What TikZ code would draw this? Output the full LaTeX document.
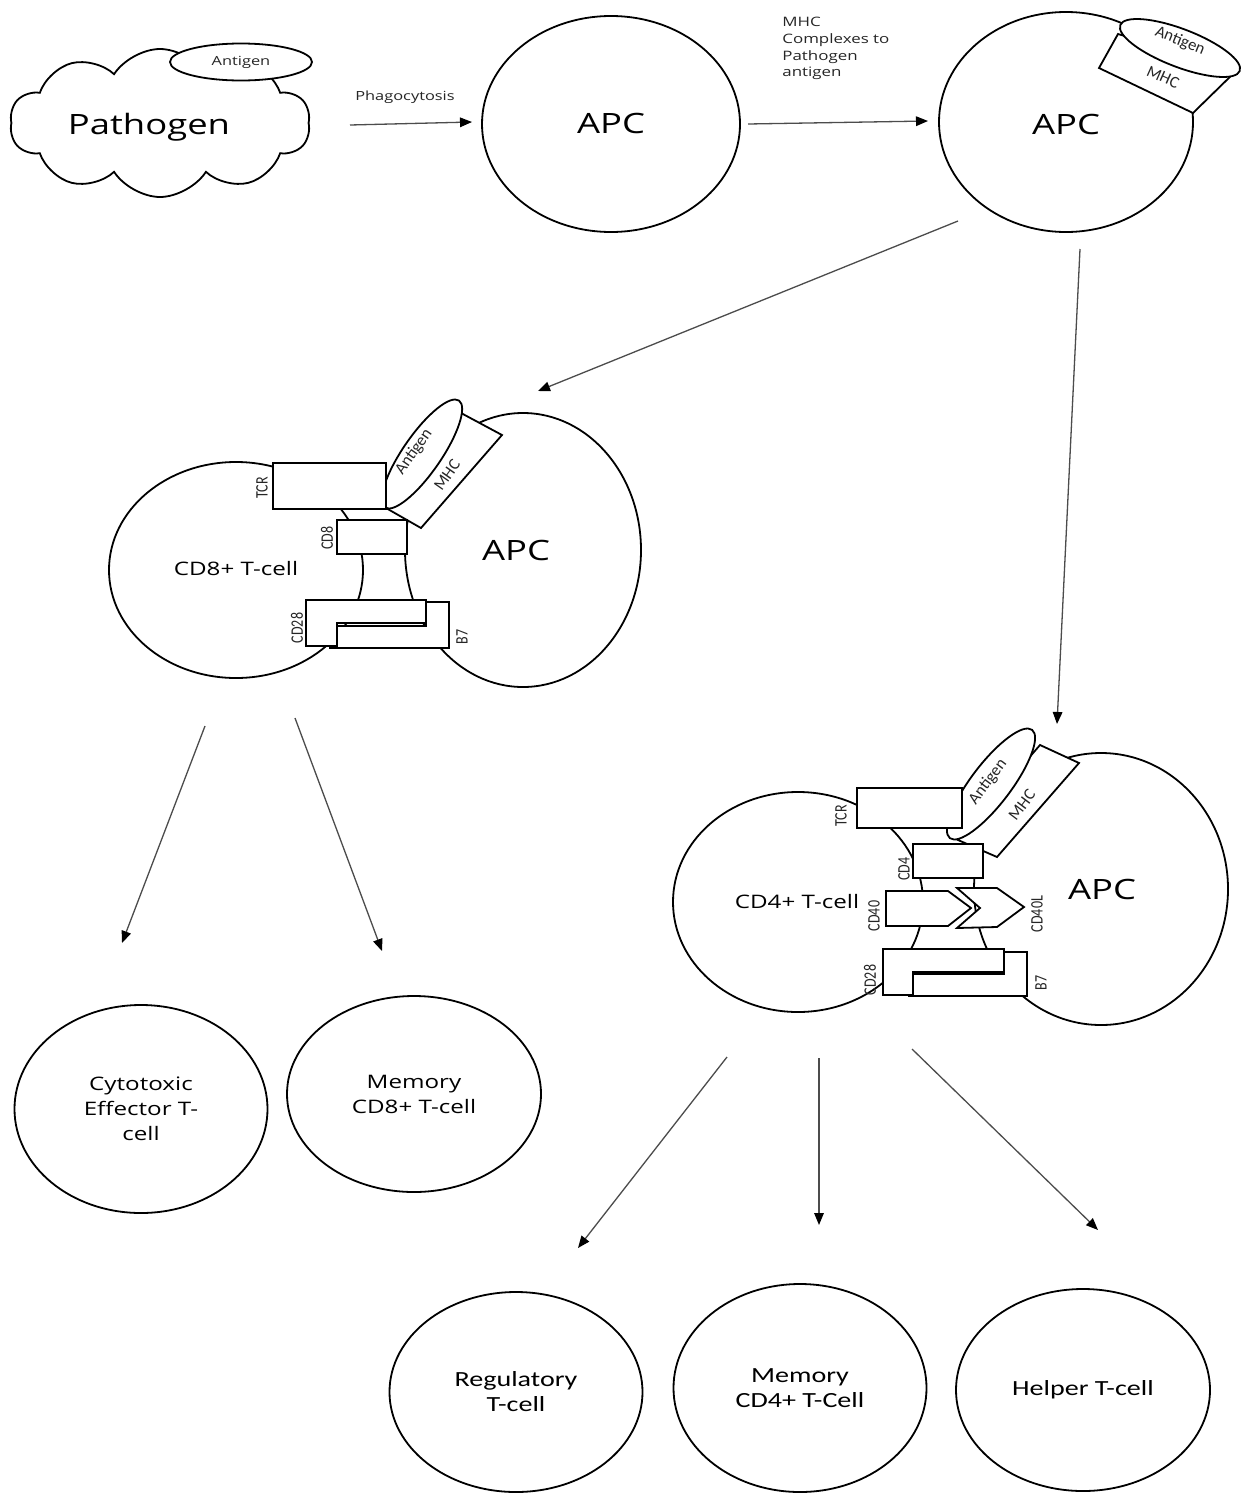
\documentclass[tikz,border=0pt]{standalone}
\usepackage{fontspec}
\setmainfont[FakeStretch=1.3]{Open Sans}
\newfontfamily\carl{Carlito}
\newfontfamily\carlw[FakeStretch=1.3]{Carlito}
\usetikzlibrary{shapes.geometric,shapes.symbols,arrows.meta}
\newcommand\fsz[2]{\fontsize{#1}{#2}\selectfont}
\begin{document}
\begin{tikzpicture}[x=0.5pt,y=-0.5pt,
  cell/.style={ellipse, draw, line width=0.9pt, fill=white, inner sep=0pt},
  mol/.style={draw, line width=0.9pt, fill=white, line join=miter},
  arr/.style={draw=black!70, line width=0.65pt, -{Triangle[length=6pt,width=4.8pt,color=black]}},
  rlab/.style={font=\carl\fsz{7}{8}, xscale=1.25, rotate=90, inner sep=0pt, text=black!85},
  tlab/.style={font=\carl\fsz{8.3}{9}, inner sep=0pt, text=black!85},
  big/.style={font=\fsz{14}{17}, inner sep=0pt},
  mid/.style={font=\fsz{9.3}{12.5}, align=center},
  midc/.style={font=\carlw\fsz{10.8}{12.5}, align=center},
  small/.style={font=\fsz{6.3}{8.35}, inner sep=0pt, text=black!85}
]
\fill[white] (0,0) rectangle (1244,1494);
\useasboundingbox (0,0) rectangle (1244,1494);

% ---------- top row ----------
\node[cloud, cloud puffs=10, cloud puff arc=115, aspect=2.05, draw, line width=0.9pt,
      fill=white, minimum width=150pt, minimum height=74pt, inner sep=0pt] (pathogen) at (160,123) {};
\node[cell, minimum width=71pt, minimum height=18.5pt] (antigen0) at (241,62) {};
\node[small] (antigen0txt) at (241,62) {Antigen};
\node[big] (pathtxt) at (149,127) {Pathogen};

\node[small] (phago) at (405,97) {Phagocytosis};

\node[cell, minimum width=129pt, minimum height=108pt] (apc1) at (611,124) {};
\node[big] (apc1txt) at (611,123) {APC};

\node[small, font=\fsz{6.5}{8.35}, align=left, anchor=north west] (mhclab) at (782,17)
  {MHC\\Complexes to\\Pathogen\\antigen};

\node[cell, minimum width=127pt, minimum height=110pt] (apc2) at (1066,122) {};
\draw[mol] (1118,34) -- (1099,68) -- (1193,113) -- (1237,70) -- cycle;
\node[cell, rotate=-21, minimum width=64pt, minimum height=19pt] (ag2) at (1180,48) {};
\node[tlab, rotate=-22] (ag2txt) at (1180,41) {Antigen};
\node[tlab, rotate=-24] (mhc2txt) at (1163,77) {MHC};
\node[big] (apc2txt) at (1066,124) {APC};

\coordinate (a1s) at (350,125); \coordinate (a1e) at (472,122);
\coordinate (a2s) at (748,124); \coordinate (a2e) at (928,121);
\draw[arr] (a1s) -- (a1e);
\draw[arr] (a2s) -- (a2e);

% ---------- CD8 complex ----------
\node[cell, minimum width=127pt, minimum height=108pt] (tcell8) at (236,570) {};
\node[cell, minimum width=118pt, minimum height=137pt] (apc8) at (523,550) {};
\draw[mol] (386,508) -- (421,528) -- (502,435) -- (461,413) -- cycle;
\node[cell, rotate=55.3, minimum width=65pt, minimum height=19pt] (ag8) at (422,454) {};
\draw[mol] (273,463) rectangle (386,509);
\draw[mol] (337,520) rectangle (407,554);
\draw[mol] (426,602) -- (449,602) -- (449,648) -- (330,648) -- (330,626) -- (426,626) -- cycle;
\draw[mol] (306,600) -- (426,600) -- (426,623) -- (337,623) -- (337,646) -- (306,646) -- cycle;
\node[tlab, rotate=55] (ag8txt) at (414,452) {Antigen};
\node[tlab, rotate=55] (mhc8txt) at (447,475) {MHC};
\node[rlab] (tcr8txt) at (262,488) {TCR};
\node[rlab] (cd8txt) at (327,538) {CD8};
\node[rlab] (cd28atxt) at (297,628) {CD28};
\node[rlab] (b7atxt) at (462,637) {B7};
\node[mid] (tcell8txt) at (236,569) {CD8+ T-cell};
\node[big] (apc8txt) at (516,550) {APC};

% ---------- CD4 complex ----------
\node[cell, minimum width=125pt, minimum height=110pt] (tcell4) at (798,902) {};
\node[cell, minimum width=127pt, minimum height=136pt] (apc4) at (1101,889) {};
\draw[mol] (958,840) -- (997,857) -- (1079,763) -- (1040,745) -- cycle;
\node[cell, rotate=52.8, minimum width=68pt, minimum height=20pt] (ag4) at (991,784) {};
\draw[mol] (857,788) rectangle (962,828);
\draw[mol] (913,844) rectangle (983,878);
\draw[mol] (886,891) -- (948,891) -- (971,908) -- (948,926) -- (886,926) -- cycle;
\draw[mol] (957,888) -- (997,888) -- (1024,907) -- (997,927) -- (957,928) -- (980,908) -- cycle;
\draw[mol] (1004,952) -- (1027,952) -- (1027,996) -- (909,996) -- (909,974) -- (1004,974) -- cycle;
\draw[mol] (883,949) -- (1004,949) -- (1004,972) -- (913,972) -- (913,995) -- (883,995) -- cycle;
\node[tlab, rotate=53] (ag4txt) at (988,782) {Antigen};
\node[tlab, rotate=53] (mhc4txt) at (1022,805) {MHC};
\node[rlab] (tcr4txt) at (841,816) {TCR};
\node[rlab] (cd4txt) at (904,869) {CD4};
\node[rlab] (cd40txt) at (874,916) {CD40};
\node[rlab] (cd40ltxt) at (1037,914) {CD40L};
\node[rlab] (cd28btxt) at (870,980) {CD28};
\node[rlab] (b7btxt) at (1041,983) {B7};
\node[mid] (tcell4txt) at (797,902) {CD4+ T-cell};
\node[big] (apc4txt) at (1102,889) {APC};

\coordinate (a3s) at (958,221); \coordinate (a3e) at (538,391);
\coordinate (a4s) at (1080,249); \coordinate (a4e) at (1057,724);
\draw[arr] (a3s) -- (a3e);
\draw[arr] (a4s) -- (a4e);

% ---------- CD8 outcomes ----------
\node[cell, mid, minimum width=126.5pt, minimum height=104pt] (cyto) at (141,1109)
  {Cytotoxic\\Effector T-\\cell};
\node[cell, mid, minimum width=127pt, minimum height=98pt] (mem8) at (414,1094)
  {Memory\\CD8+ T-cell};
\coordinate (a5s) at (205,726); \coordinate (a5e) at (122,943);
\coordinate (a6s) at (295,718); \coordinate (a6e) at (382,951);
\draw[arr] (a5s) -- (a5e);
\draw[arr] (a6s) -- (a6e);

% ---------- CD4 outcomes ----------
\node[cell, midc, minimum width=126.5pt, minimum height=100pt] (reg) at (516,1392)
  {Regulatory\\T-cell};
\node[cell, midc, minimum width=126.5pt, minimum height=104pt] (mem4) at (800,1388)
  {Memory\\CD4+ T-Cell};
\node[cell, midc, minimum width=127pt, minimum height=101pt] (helper) at (1083,1390)
  {Helper T-cell};
\coordinate (a7s) at (727,1057); \coordinate (a7e) at (578,1248);
\coordinate (a8s) at (819,1058); \coordinate (a8e) at (819,1225);
\coordinate (a9s) at (912,1049); \coordinate (a9e) at (1098,1230);
\draw[arr] (a7s) -- (a7e);
\draw[arr] (a8s) -- (a8e);
\draw[arr] (a9s) -- (a9e);
\end{tikzpicture}
\end{document}
